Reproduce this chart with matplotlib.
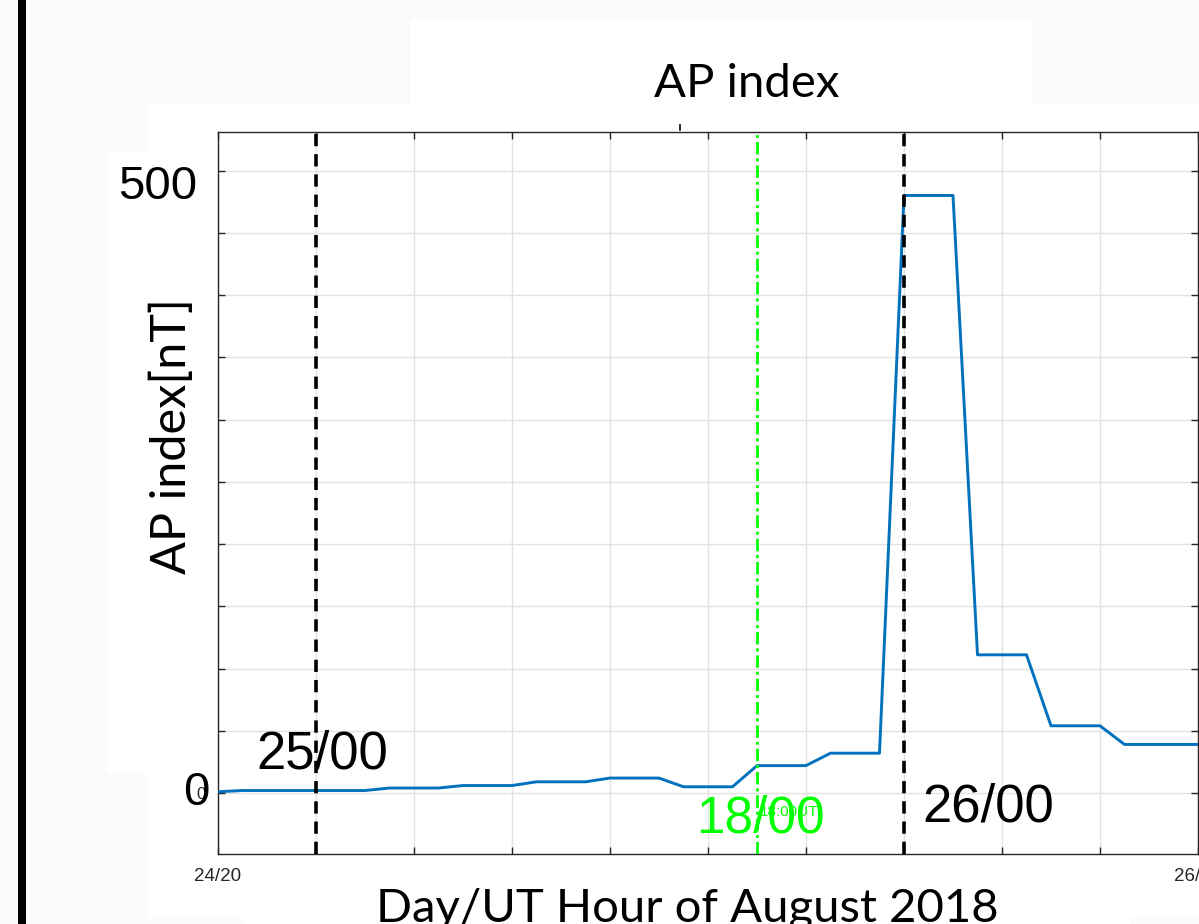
import numpy as np
import matplotlib
matplotlib.use("Agg")
import matplotlib.pyplot as plt
from matplotlib.patches import Rectangle
from matplotlib.lines import Line2D

W, H = 1199, 924

# hours after 24 Aug 20:00 UT, and Ap value
hours = [0, 1, 6, 7, 9, 10, 12, 13, 15, 16, 18, 19, 21, 22, 24, 25, 27,
         28, 30, 31, 33, 34, 36, 37, 40]
ap = [1, 2, 2, 4, 4, 6, 6, 9, 9, 12, 12, 5, 5, 22, 22, 32, 32,
      480, 480, 111, 111, 54, 54, 39, 39]

xticks = [0, 4, 8, 12, 16, 20, 24, 28, 32, 36, 40]
xtick_labels = ['24/20', '', '', '', '', '', '', '', '', '', '26/12']
yticks = [0, 50, 100, 150, 200, 250, 300, 350, 400, 450, 500]
ytick_labels = ['0'] + [''] * 10

day_marks = [4, 28]          # 25/00 and 26/00
event_mark = 22              # 25/18

bg = '#fcfbf9'
blue = '#0072bd'
green = '#00ff00'
arial = 'Liberation Sans'
calibri = 'Lato'


def box(x0, y0, x1, y1, color='white'):
    # rectangle given in pixel coords from the top left
    return Rectangle((x0 / W, 1 - y1 / H), (x1 - x0) / W, (y1 - y0) / H,
                     transform=fig.transFigure, color=color, zorder=-10, lw=0)


fig = plt.figure(figsize=(W / 100, H / 100), dpi=100, facecolor=bg)

# slide background patches
fig.patches.append(box(410, 18, 1032, 105))
fig.patches.append(box(148, 105, 1199, 918))
fig.patches.append(box(107, 152, 148, 773))
fig.patches.append(box(243, 918, 1130, 924))
fig.patches.append(box(18, 0, 26, 924, color='black'))

ax = fig.add_axes([218 / W, 1 - 854 / H, (1198 - 218) / W, (854 - 132) / H])
ax.set_facecolor('white')

ax.plot(hours, ap, color=blue, lw=2.1, zorder=3)
for d in day_marks:
    ax.axvline(d, color='black', lw=2.6, linestyle=(0, (3.4, 2.2)), zorder=4)
ax.axvline(event_mark, color=green, lw=2.0, linestyle=(0, (4.5, 1.4, 1.1, 1.4)), zorder=4)

ax.set_xlim(0, 40)
ax.set_ylim(-49, 531)
ax.set_xticks(xticks)
ax.set_xticklabels(xtick_labels, fontsize=13.5, color='#262626', family=arial)
ax.set_yticks(yticks)
ax.set_yticklabels(ytick_labels, fontsize=12, color='#262626', family=arial)
ax.tick_params(direction='in', length=5, width=1, color='#262626',
               top=True, right=True)
ax.tick_params(axis='x', pad=10)
ax.tick_params(axis='y', pad=9)
ax.grid(True, color='#e2e2e2', lw=1)
ax.set_axisbelow(True)
for s in ax.spines.values():
    s.set_color('#262626')
    s.set_linewidth(1)

# big overlay labels
yt = ax.get_yaxis_transform()
ax.text(-0.0214, 477, '500', transform=yt, ha='right', va='baseline',
        fontsize=34, family=arial, clip_on=False)
ax.text(-0.0082, -10, '0', transform=yt, ha='right', va='baseline',
        fontsize=34, family=arial, clip_on=False)
ax.text(4.26, 20, '25/00', ha='center', va='baseline', fontsize=38, family=arial, zorder=5)
ax.text(31.43, -23, '26/00', ha='center', va='baseline', fontsize=38, family=arial, zorder=5)
ax.text(23.3, -18.5, '18:00UT', ha='center', va='baseline', fontsize=11,
        family=arial, color=green, zorder=5)
ax.text(22.14, -31.5, '18/00', ha='center', va='baseline', fontsize=37,
        family=arial, color=green, zorder=5)

fig.text(747 / W, 1 - 97 / H, 'AP index', ha='center', va='baseline',
         fontsize=34, family=calibri)
fig.text(687 / W, 1 - 922 / H, 'Day/UT Hour of August 2018', ha='center',
         va='baseline', fontsize=34, family=calibri)
fig.text(172 / W, 1 - 436 / H, 'AP index[nT]', ha='center', va='center',
         rotation=90, fontsize=35, family=calibri)
fig.lines.append(Line2D([680 / W, 680 / W], [1 - 125 / H, 1 - 130 / H],
                        transform=fig.transFigure, color='black', lw=1.2))

fig.savefig('out.png', dpi=100, facecolor=bg)
